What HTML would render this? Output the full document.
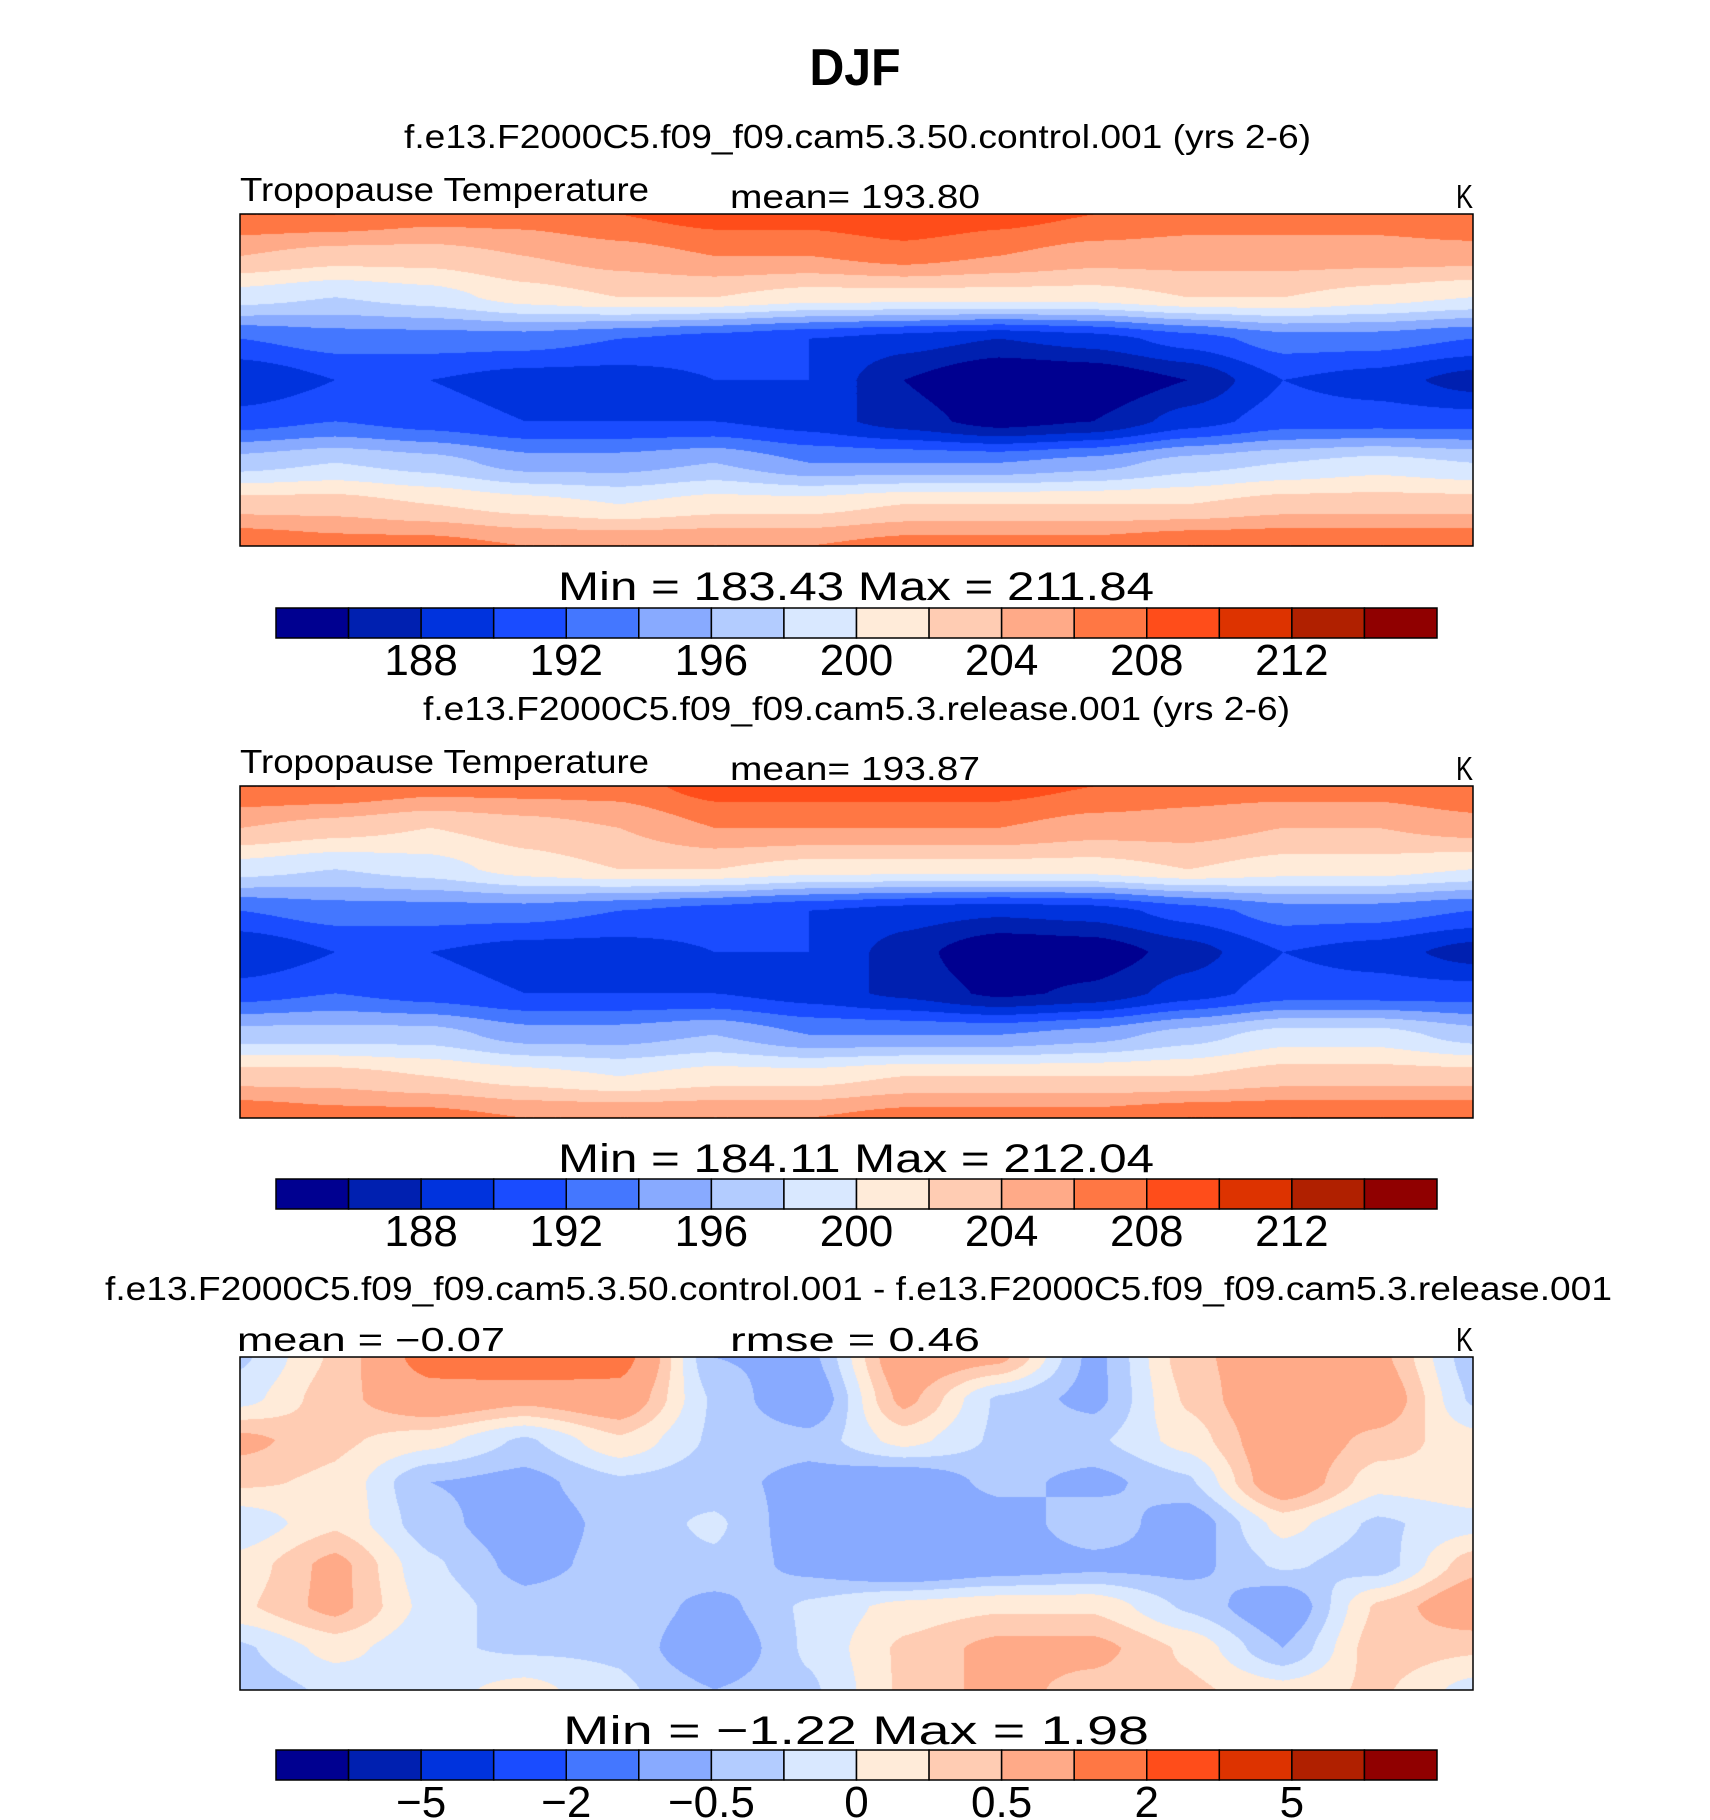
<!DOCTYPE html>
<html><head><meta charset="utf-8"><style>
body{margin:0;background:#fff;width:1710px;height:1820px;overflow:hidden;position:relative;font-family:"Liberation Sans",sans-serif}
canvas{position:absolute}
svg{position:absolute;left:0;top:0}
</style></head><body>
<canvas id="m1" width="1233" height="332" style="left:240px;top:214px"></canvas>
<canvas id="m2" width="1233" height="332" style="left:240px;top:786px"></canvas>
<canvas id="m3" width="1233" height="333" style="left:240px;top:1357px"></canvas>
<svg id="s" width="1710" height="1820"></svg>
<script>
const colors=["#000090","#0020b0","#0033dd","#1a4cff","#4477ff","#88aaff","#b3ccff","#d9e8ff","#ffebd9","#ffccb3","#ffaa88","#ff7744","#ff4d1a","#dd3300","#b02000","#900000"];
const absLevels=[186,188,190,192,194,196,198,200,202,204,206,208,210,212,214];
const diffLevels=[-8,-5,-3,-2,-1,-0.5,-0.25,0,0.25,0.5,1,2,3,5,8];
const absTickLabels=["188","192","196","200","204","208","212"];
const diffTickLabels=["−5","−2","−0.5","0","0.5","2","5"];
const control=[
[208,208,207,207,208,209,209,210,209,208,207,207,207,208],
[204,203,203,204,205,206,206,207,206,205,205,205,205,205],
[199,198,199,201,202,202,201,201,201,201,202,202,201,200],
[192,193,193,193,192,191,190,189,188,189,191,193,193,192],
[188,190,190,189,189,190,190,186,183.5,184,186,190,189,187],
[191,192,191,190,190,190,189,187,185,186,189,191,191,191],
[197,198,197,195,195,196,194,194,194,195,197,198,199,198],
[203,203,202,201,200,201,201,202,202,202,202,203,203,203],
[208,207,207,206,206,206,206,207,207,207,208,208,208,208]];
const release=[
[208,208,207,207,207,209,209,209,209,208,207,207,207,208],
[204,203,202,203,204,206,206,206,206,205,205,204,204,205],
[199,198,199,201,202,202,201,201,201,201,202,201,201,200],
[192,193,193,193,192,191,190,189,188.5,189,191,193,193,192],
[188,190,190,189,189,190,190,187,184,184.5,187,190,189,187],
[191,192,191,190,190,190,189,187.5,185.5,186.5,189,191,191,191],
[197,197,197,195,195,196,194,194,194,195,197,199,199,197],
[203,203,202,201,200,201,201,202,202,202,202,203,203,203],
[208,207,207,206,206,206,206,207,207,207,208,208,208,208]];
const diff=[
[-0.3,0.3,1.2,1.5,1.2,-0.5,-0.6,0.8,0.6,-0.6,0.4,0.8,0.6,-0.4],
[-0.1,0.4,0.8,0.6,0.8,-0.3,-0.8,0.6,-0.3,-0.6,0.3,0.9,0.8,-0.3],
[0.6,0.3,0.1,-0.3,0.2,-0.3,-0.4,0.1,-0.3,-0.3,0.1,0.8,0.4,0.1],
[0.3,0.2,-0.5,-0.6,-0.3,-0.4,-0.6,-0.8,-0.4,-0.6,-0.3,0.8,0.1,0.2],
[-0.2,0.2,-0.4,-0.7,-0.4,-0.2,-0.7,-1.0,-0.7,-0.3,-0.7,0.1,-0.3,-0.1],
[0.1,0.6,-0.2,-0.6,-0.4,-0.3,-0.6,-0.9,-0.7,-0.6,-0.6,-0.2,-0.4,0.4],
[0.2,0.6,-0.1,-0.4,-0.3,-0.6,-0.2,0.1,0.2,0.2,-0.3,-0.8,0.3,0.8],
[-0.3,0.1,-0.2,-0.3,-0.3,-0.8,-0.2,0.3,0.6,0.6,0.2,-0.5,0.4,0.3],
[-0.4,-0.2,-0.1,0.1,-0.2,-0.5,-0.3,0.3,0.6,0.4,0.3,0.1,0.3,-0.1]];

function hex(c){return [parseInt(c.slice(1,3),16),parseInt(c.slice(3,5),16),parseInt(c.slice(5,7),16)];}
const rgb=colors.map(hex);
function levelIndex(v,lv){let i=0;while(i<lv.length&&v>=lv[i])i++;return i;}
function drawMap(id,grid,lv){
  const cv=document.getElementById(id),ctx=cv.getContext('2d');
  const W=cv.width,H=cv.height,img=ctx.createImageData(W,H);
  const R=grid.length,C=grid[0].length;
  for(let y=0;y<H;y++){
    const gy=y/(H-1)*(R-1),r0=Math.min(Math.floor(gy),R-2),fy=gy-r0;
    for(let x=0;x<W;x++){
      const gx=x/(W-1)*(C-1),c0=Math.min(Math.floor(gx),C-2),fx=gx-c0;
      const sx=fx*fx*(3-2*fx)*0.5+fx*0.5, sy=fy*fy*(3-2*fy)*0.5+fy*0.5;
      const v=(grid[r0][c0]*(1-sx)+grid[r0][c0+1]*sx)*(1-sy)+(grid[r0+1][c0]*(1-sx)+grid[r0+1][c0+1]*sx)*sy;
      const col=rgb[levelIndex(v,lv)],k=(y*W+x)*4;
      img.data[k]=col[0];img.data[k+1]=col[1];img.data[k+2]=col[2];img.data[k+3]=255;
    }
  }
  ctx.putImageData(img,0,0);
}
drawMap('m1',control,absLevels);
drawMap('m2',release,absLevels);
drawMap('m3',diff,diffLevels);

const NS="http://www.w3.org/2000/svg",svg=document.getElementById('s');
function txt(s,x,y,size,len,anchor,weight,name){
  const t=document.createElementNS(NS,'text');
  t.setAttribute('x',x);t.setAttribute('y',y);t.setAttribute('font-size',size);
  t.setAttribute('font-family','"Liberation Sans",sans-serif');
  if(anchor)t.setAttribute('text-anchor',anchor);
  if(weight)t.setAttribute('font-weight',weight);
  if(len){t.setAttribute('textLength',len);t.setAttribute('lengthAdjust','spacingAndGlyphs');}
  
  
  t.textContent=s;svg.appendChild(t);return t;
}
function frame(y,h,name){
  const r=document.createElementNS(NS,'rect');
  r.setAttribute('x',240);r.setAttribute('y',y);r.setAttribute('width',1233);r.setAttribute('height',h);
  r.setAttribute('fill','none');r.setAttribute('stroke','#000');r.setAttribute('stroke-width',1.5);
  
  
  svg.appendChild(r);
}
const cbX0=276,cbX1=1437,cbW=(cbX1-cbX0)/16;
function colorbar(y,labels,tickY,name){
  const g=document.createElementNS(NS,'g');
  
  
  svg.appendChild(g);
  colors.forEach((c,i)=>{
    const r=document.createElementNS(NS,'rect');
    r.setAttribute('x',cbX0+i*cbW);r.setAttribute('y',y);r.setAttribute('width',cbW);r.setAttribute('height',30);
    r.setAttribute('fill',c);r.setAttribute('stroke','#000');r.setAttribute('stroke-width',1.5);
    
    
    g.appendChild(r);
  });
  labels.forEach((l,i)=>{
    const x=cbX0+(2+2*i)*cbW;
    txt(l,x,tickY,44,null,'middle','normal','colorbar-tick-label');
  });
}
txt("DJF",855,85,52,91,'middle','bold','figure-title');
txt("f.e13.F2000C5.f09_f09.cam5.3.50.control.001 (yrs 2-6)",404,148,33,907,null,null,'panel1-title');
txt("Tropopause  Temperature",240,201,33,409,null,null,'panel1-variable');
txt("mean=  193.80",730,208,33,250,null,null,'panel1-mean');
txt("K",1456,208,33,17,null,null,'panel1-units');
frame(214,332,'panel1-frame');
txt("Min  =  183.43  Max  =  211.84",558,600,40,596,null,null,'panel1-minmax');
colorbar(608,absTickLabels,675,'panel1-colorbar');
txt("f.e13.F2000C5.f09_f09.cam5.3.release.001 (yrs 2-6)",423,720,33,867,null,null,'panel2-title');
txt("Tropopause  Temperature",240,773,33,409,null,null,'panel2-variable');
txt("mean=  193.87",730,780,33,250,null,null,'panel2-mean');
txt("K",1456,780,33,17,null,null,'panel2-units');
frame(786,332,'panel2-frame');
txt("Min  =  184.11  Max  =  212.04",558,1172,40,596,null,null,'panel2-minmax');
colorbar(1179,absTickLabels,1246,'panel2-colorbar');
txt("f.e13.F2000C5.f09_f09.cam5.3.50.control.001 - f.e13.F2000C5.f09_f09.cam5.3.release.001",105,1300,33,1507,null,null,'diff-title');
txt("mean  =    −0.07",237,1351,33,268,null,null,'diff-mean');
txt("rmse  =    0.46",730,1351,33,250,null,null,'diff-rmse');
txt("K",1456,1351,33,17,null,null,'diff-units');
frame(1357,333,'diff-frame');
txt("Min  =    −1.22  Max  =     1.98",563,1744,40,586,null,null,'diff-minmax');
colorbar(1750,diffTickLabels,1817,'diff-colorbar');
</script>
</body></html>
